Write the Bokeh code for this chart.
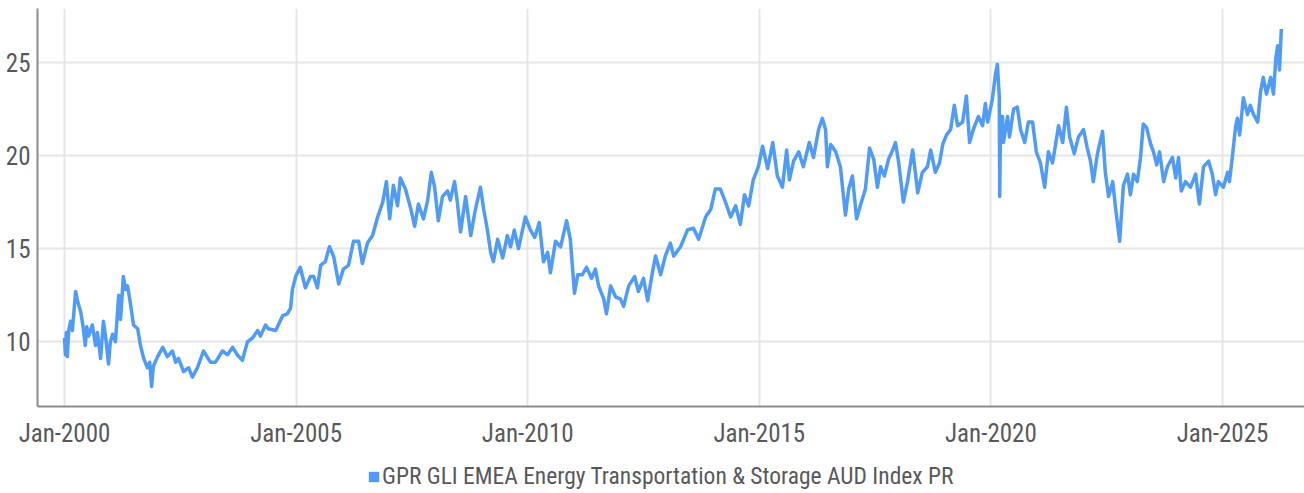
from bokeh.plotting import figure
from bokeh.layouts import column
from bokeh.models import Range1d, FixedTicker, Legend, LegendItem, ColumnDataSource
from bokeh.embed import file_html
from bokeh.resources import INLINE

series_name = "GPR GLI EMEA Energy Transportation & Storage AUD Index PR"

years = [
    2000.00, 2000.02, 2000.04, 2000.06, 2000.09, 2000.13, 2000.17, 2000.24, 2000.28, 2000.35,
    2000.39, 2000.45, 2000.48, 2000.52, 2000.60, 2000.67, 2000.71, 2000.78, 2000.84, 2000.89,
    2000.95, 2000.99, 2001.04, 2001.10, 2001.17, 2001.21, 2001.27, 2001.32, 2001.36, 2001.42,
    2001.49, 2001.58, 2001.64, 2001.71, 2001.79, 2001.84, 2001.88, 2001.92, 2002.01, 2002.12,
    2002.22, 2002.33, 2002.40, 2002.46, 2002.57, 2002.68, 2002.76, 2002.87, 2003.00, 2003.15,
    2003.26, 2003.41, 2003.52, 2003.63, 2003.73, 2003.84, 2003.95, 2004.06, 2004.17, 2004.23,
    2004.34, 2004.40, 2004.56, 2004.71, 2004.81, 2004.88, 2004.92, 2004.99, 2005.09, 2005.20,
    2005.31, 2005.38, 2005.46, 2005.53, 2005.63, 2005.72, 2005.81, 2005.92, 2006.02, 2006.13,
    2006.24, 2006.35, 2006.43, 2006.54, 2006.65, 2006.76, 2006.87, 2006.95, 2007.02, 2007.10,
    2007.19, 2007.25, 2007.36, 2007.47, 2007.56, 2007.64, 2007.75, 2007.84, 2007.92, 2007.99,
    2008.07, 2008.16, 2008.27, 2008.33, 2008.42, 2008.48, 2008.55, 2008.66, 2008.77, 2008.87,
    2008.98, 2009.05, 2009.13, 2009.20, 2009.26, 2009.35, 2009.46, 2009.56, 2009.63, 2009.71,
    2009.80, 2009.95, 2010.06, 2010.15, 2010.25, 2010.34, 2010.43, 2010.49, 2010.60, 2010.71,
    2010.84, 2010.92, 2011.01, 2011.08, 2011.18, 2011.27, 2011.38, 2011.46, 2011.53, 2011.64,
    2011.70, 2011.79, 2011.90, 2012.00, 2012.07, 2012.18, 2012.31, 2012.39, 2012.50, 2012.59,
    2012.69, 2012.76, 2012.87, 2012.97, 2013.08, 2013.15, 2013.30, 2013.45, 2013.58, 2013.69,
    2013.84, 2013.95, 2014.05, 2014.16, 2014.27, 2014.38, 2014.49, 2014.59, 2014.68, 2014.77,
    2014.87, 2014.98, 2015.07, 2015.18, 2015.29, 2015.39, 2015.50, 2015.59, 2015.65, 2015.74,
    2015.85, 2015.95, 2016.08, 2016.17, 2016.28, 2016.36, 2016.43, 2016.47, 2016.54, 2016.65,
    2016.75, 2016.86, 2016.93, 2017.01, 2017.10, 2017.18, 2017.29, 2017.38, 2017.47, 2017.55,
    2017.62, 2017.70, 2017.79, 2017.88, 2017.94, 2018.01, 2018.11, 2018.20, 2018.31, 2018.42,
    2018.52, 2018.63, 2018.70, 2018.80, 2018.89, 2018.96, 2019.04, 2019.13, 2019.21, 2019.28,
    2019.39, 2019.47, 2019.54, 2019.62, 2019.73, 2019.82, 2019.88, 2019.93, 2020.03, 2020.10,
    2020.14, 2020.18, 2020.19, 2020.21, 2020.25, 2020.27, 2020.36, 2020.40, 2020.49, 2020.57,
    2020.64, 2020.73, 2020.81, 2020.90, 2020.98, 2021.07, 2021.16, 2021.24, 2021.33, 2021.39,
    2021.46, 2021.55, 2021.63, 2021.70, 2021.80, 2021.89, 2022.00, 2022.08, 2022.15, 2022.21,
    2022.30, 2022.41, 2022.47, 2022.54, 2022.63, 2022.69, 2022.78, 2022.86, 2022.95, 2023.01,
    2023.08, 2023.16, 2023.23, 2023.29, 2023.36, 2023.45, 2023.51, 2023.58, 2023.64, 2023.73,
    2023.81, 2023.92, 2023.99, 2024.05, 2024.11, 2024.20, 2024.31, 2024.42, 2024.50, 2024.59,
    2024.70, 2024.78, 2024.85, 2024.91, 2025.02, 2025.11, 2025.15, 2025.22, 2025.28, 2025.32,
    2025.37, 2025.45, 2025.54, 2025.60, 2025.67, 2025.76, 2025.82, 2025.88, 2025.95, 2026.04,
    2026.10, 2026.15, 2026.19, 2026.23, 2026.27,
]

values = [
    10.2, 9.3, 10.5, 9.2, 10.6, 11.1, 10.6, 12.7, 12.2, 11.6,
    11.0, 9.8, 10.8, 10.3, 10.9, 9.8, 10.5, 9.1, 11.1, 10.2,
    8.8, 10.0, 10.4, 10.0, 12.5, 11.2, 13.5, 12.8, 13.0, 12.1,
    10.9, 10.7, 9.8, 9.1, 8.6, 8.9, 7.6, 8.7, 9.2, 9.7,
    9.2, 9.5, 8.9, 9.1, 8.4, 8.6, 8.1, 8.6, 9.5, 8.9,
    8.9, 9.5, 9.3, 9.7, 9.3, 9.0, 10.0, 10.2, 10.6, 10.3,
    10.9, 10.7, 10.6, 11.4, 11.5, 11.8, 12.8, 13.5, 14.0, 12.9,
    13.5, 13.5, 12.9, 14.1, 14.3, 15.1, 14.6, 13.1, 13.9, 14.1,
    15.4, 15.4, 14.2, 15.3, 15.7, 16.7, 17.5, 18.6, 16.6, 18.4,
    17.3, 18.8, 18.2, 17.2, 16.2, 17.4, 16.6, 17.6, 19.1, 18.3,
    16.5, 17.8, 18.1, 17.6, 18.6, 17.5, 15.9, 17.8, 15.7, 17.1,
    18.3, 17.1, 16.0, 14.8, 14.3, 15.5, 14.5, 15.7, 15.1, 16.0,
    15.0, 16.7, 16.0, 15.6, 16.4, 14.3, 14.8, 13.7, 15.4, 15.1,
    16.5, 15.5, 12.6, 13.6, 13.6, 14.0, 13.4, 13.9, 13.0, 12.3,
    11.5, 13.0, 12.4, 12.3, 11.9, 13.0, 13.5, 12.7, 13.4, 12.2,
    13.7, 14.6, 13.6, 14.6, 15.3, 14.6, 15.1, 16.0, 16.1, 15.5,
    16.7, 17.1, 18.2, 18.2, 17.5, 16.7, 17.3, 16.3, 17.9, 17.3,
    18.7, 19.4, 20.5, 19.3, 20.7, 18.9, 18.3, 20.3, 18.7, 19.7,
    20.2, 19.4, 20.7, 19.9, 21.4, 22.0, 21.4, 19.4, 20.6, 20.2,
    19.4, 16.8, 18.2, 18.9, 16.6, 17.3, 18.2, 20.4, 19.8, 18.3,
    19.4, 18.9, 19.8, 20.3, 20.7, 19.6, 17.5, 18.6, 20.3, 18.0,
    19.1, 19.4, 20.3, 19.1, 19.6, 20.6, 21.1, 21.4, 22.7, 21.6,
    21.8, 23.2, 20.7, 21.4, 22.1, 21.6, 22.8, 21.8, 23.0, 24.4,
    24.9, 23.2, 17.8, 22.1, 22.1, 20.7, 22.1, 21.0, 22.5, 22.6,
    21.4, 20.7, 21.8, 21.8, 20.2, 19.6, 18.3, 20.2, 19.6, 20.5,
    21.6, 20.7, 22.6, 21.0, 20.1, 21.0, 21.4, 20.4, 19.7, 18.6,
    20.1, 21.3, 19.1, 17.8, 18.6, 17.2, 15.4, 18.4, 19.0, 17.9,
    19.0, 18.6, 19.9, 21.7, 21.5, 20.6, 20.2, 19.5, 20.2, 18.6,
    19.4, 19.9, 18.8, 19.9, 18.1, 18.6, 18.3, 19.0, 17.4, 19.4,
    19.7, 19.0, 17.9, 18.6, 18.3, 19.1, 18.6, 20.1, 21.5, 22.0,
    21.1, 23.1, 22.2, 22.7, 22.2, 21.8, 23.4, 24.2, 23.3, 24.2,
    23.3, 25.2, 25.9, 24.6, 26.8,
]

tick_years = [2000, 2005, 2010, 2015, 2020, 2025]
tick_labels = ["Jan-2000", "Jan-2005", "Jan-2010", "Jan-2015", "Jan-2020", "Jan-2025"]
y_ticks = [10, 15, 20, 25]

FONT = "'Liberation Sans Narrow', 'Roboto Condensed', Roboto, sans-serif"
TEXT = "#595959"
LINE = "#4F9BF5"

p = figure(
    output_backend="svg", toolbar_location=None,
    width=1304, height=450,
    min_border_left=37, min_border_right=0, min_border_top=8, min_border_bottom=42,
    x_range=Range1d(1999.417, 2026.77), y_range=Range1d(6.52, 27.9),
    background_fill_color="white", border_fill_color="white",
)
p.outline_line_color = None

src = ColumnDataSource(dict(x=years, y=values))
p.line("x", "y", source=src, line_color=LINE, line_width=3.5, line_join="round")

# axes
p.xaxis.ticker = FixedTicker(ticks=tick_years)
p.xaxis.major_label_overrides = {y: l for y, l in zip(tick_years, tick_labels)}
p.yaxis.ticker = FixedTicker(ticks=y_ticks)
for ax in (p.xaxis[0], p.yaxis[0]):
    ax.axis_line_color = "#8c8c8c"
    ax.axis_line_width = 2
    ax.major_tick_line_color = None
    ax.minor_tick_line_color = None
    ax.major_tick_out = 0
    ax.major_tick_in = 0
    ax.major_label_text_font = FONT
    ax.major_label_text_font_size = "25px"
    ax.major_label_text_color = TEXT
p.yaxis.major_label_standoff = 7
p.xaxis.major_label_standoff = 12

p.xgrid.ticker = FixedTicker(ticks=tick_years)
p.ygrid.ticker = FixedTicker(ticks=y_ticks)
for g in (p.xgrid[0], p.ygrid[0]):
    g.grid_line_color = "#e6e6e6"
    g.grid_line_width = 2

# legend strip underneath the chart
lg = figure(
    output_backend="svg", toolbar_location=None,
    width=1304, height=43,
    min_border_left=0, min_border_right=0, min_border_top=0, min_border_bottom=0,
    x_range=Range1d(0, 1), y_range=Range1d(0, 1),
    background_fill_color="white", border_fill_color="white",
)
lg.outline_line_color = None
lg.axis.visible = False
lg.grid.visible = False
# a swatch renderer placed outside the visible range, only used by the legend
sq = lg.quad(left=[-5], right=[-4], bottom=[-5], top=[-4], fill_color=LINE, line_color=None)

legend = Legend(
    items=[LegendItem(label=series_name, renderers=[sq])],
    location=(330, 3), orientation="horizontal",
    label_text_font=FONT, label_text_font_size="23.5px", label_text_color=TEXT,
    glyph_width=13, glyph_height=13, label_standoff=2,
    padding=0, margin=0, border_line_color=None, background_fill_alpha=0,
)
lg.add_layout(legend, "center")

layout = column(p, lg, spacing=0)
open("out.html", "w").write(file_html(layout, INLINE))
